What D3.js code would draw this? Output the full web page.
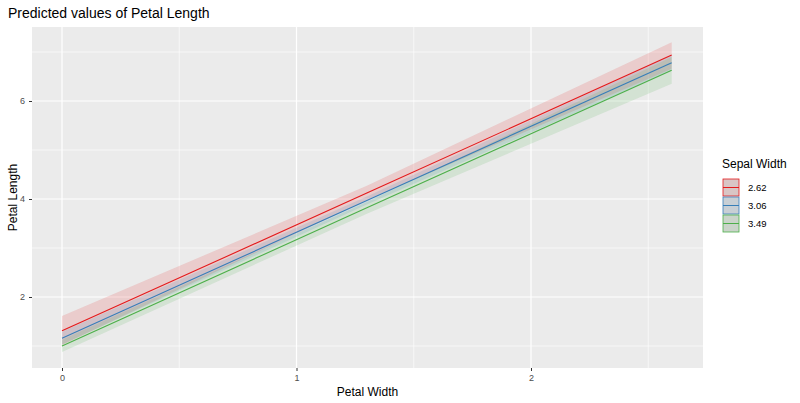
<!DOCTYPE html>
<html><head><meta charset="UTF-8">
<script src="https://cdnjs.cloudflare.com/ajax/libs/d3/7.8.5/d3.min.js"></script>
<style>body{margin:0;background:#fff;font-family:Arial,'Liberation Sans',sans-serif}</style>
</head><body><svg id="c" width="800" height="403"></svg>
<script>
const groups = ["2.62", "3.06", "3.49"];
const colors = ["#e41a1c", "#377eb8", "#4daf4a"];
const xs = [0, 1.3, 2.6];
const fit = [[1.31, 4.12, 6.94], [1.16, 3.97, 6.78], [1.0, 3.82, 6.63]];
const lo = [[1.02, 3.98, 6.66], [1.03, 3.89, 6.62], [0.88, 3.70, 6.35]];
const hi = [[1.61, 4.27, 7.20], [1.29, 4.05, 6.94], [1.13, 3.94, 6.90]];
const xTicks = [0, 1, 2], yTicks = [2, 4, 6];
const xMinor = [0.5, 1.5, 2.5], yMinor = [1, 3, 5, 7];

const svg = d3.select("#c");
const L = 32, R = 703, T = 27, B = 368;
const x = d3.scaleLinear().domain([0, 1]).range([62, 296.5]);
const y = d3.scaleLinear().domain([2, 6]).range([297, 101]);

svg.append("rect").attr("x", L).attr("y", T).attr("width", R - L).attr("height", B - T).attr("fill", "#ebebeb");
const g = svg.append("g");
xMinor.forEach(v => g.append("line").attr("x1", x(v)).attr("x2", x(v)).attr("y1", T).attr("y2", B).attr("stroke", "#fff").attr("stroke-width", 0.6));
yMinor.forEach(v => g.append("line").attr("y1", y(v)).attr("y2", y(v)).attr("x1", L).attr("x2", R).attr("stroke", "#fff").attr("stroke-width", 0.6));
xTicks.forEach(v => g.append("line").attr("x1", x(v)).attr("x2", x(v)).attr("y1", T).attr("y2", B).attr("stroke", "#fff").attr("stroke-width", 1.2));
yTicks.forEach(v => g.append("line").attr("y1", y(v)).attr("y2", y(v)).attr("x1", L).attr("x2", R).attr("stroke", "#fff").attr("stroke-width", 1.2));

groups.forEach((grp, i) => {
  const area = d3.area().x((d, j) => x(xs[j])).y0((d, j) => y(lo[i][j])).y1((d, j) => y(hi[i][j]));
  svg.append("path").attr("d", area(xs)).attr("fill", colors[i]).attr("opacity", 0.15);
});
groups.forEach((grp, i) => {
  const line = d3.line().x((d, j) => x(xs[j])).y(d => y(d));
  svg.append("path").attr("d", line(fit[i])).attr("fill", "none").attr("stroke", colors[i]).attr("stroke-width", 1.1);
});

const xa = svg.append("g").attr("transform", `translate(0,${B})`)
  .call(d3.axisBottom(x).tickValues(xTicks).tickSize(3).tickPadding(4).tickFormat(d3.format("d")));
const ya = svg.append("g").attr("transform", `translate(${L},0)`)
  .call(d3.axisLeft(y).tickValues(yTicks).tickSize(3).tickPadding(4).tickFormat(d3.format("d")));
[xa, ya].forEach(a => {
  a.select(".domain").remove();
  a.selectAll("line").attr("stroke", "#333");
  a.selectAll("text").attr("fill", "#4d4d4d").style("font-size", "9px");
});

svg.append("text").attr("x", 8).attr("y", 18).text("Predicted values of Petal Length").style("font-size", "14px").attr("fill", "#000");
svg.append("text").attr("x", (L + R) / 2).attr("y", 396).attr("text-anchor", "middle").text("Petal Width").style("font-size", "12px");
svg.append("text").attr("transform", `translate(17,${(T + B) / 2}) rotate(-90)`).attr("text-anchor", "middle").text("Petal Length").style("font-size", "12px");

const lg = svg.append("g").attr("transform", "translate(722,153)");
lg.append("text").attr("x", 0).attr("y", 15).text("Sepal Width").style("font-size", "12px");
groups.forEach((grp, i) => {
  const yy = 26 + i * 18;
  lg.append("rect").attr("x", 1).attr("y", yy).attr("width", 16).attr("height", 17).attr("fill", "#d9d9d9");
  lg.append("rect").attr("x", 1).attr("y", yy).attr("width", 16).attr("height", 17).attr("fill", colors[i]).attr("fill-opacity", 0.1).attr("stroke", colors[i]).attr("stroke-width", 0.8);
  lg.append("line").attr("x1", 1).attr("x2", 17).attr("y1", yy + 8.5).attr("y2", yy + 8.5).attr("stroke", colors[i]);
  lg.append("text").attr("x", 26).attr("y", yy + 12).text(grp).style("font-size", "9.5px");
});
</script></body></html>
